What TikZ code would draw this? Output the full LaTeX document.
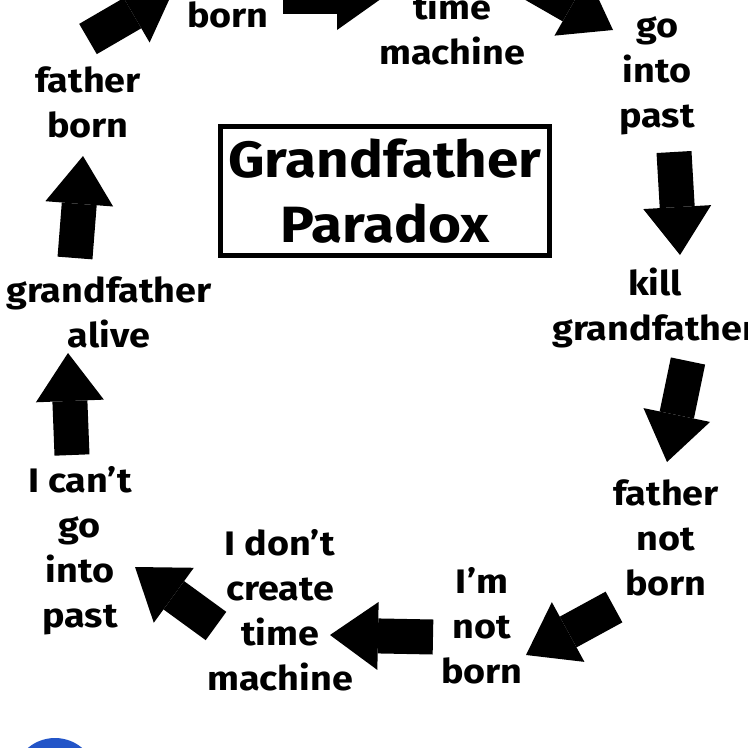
\documentclass[tikz,border=0pt]{standalone}
\usepackage{fontspec}
\setmainfont[FakeStretch=1.11]{Fira Sans}
\usetikzlibrary{arrows.meta}
\definecolor{logoblue}{RGB}{35,85,200}
\tikzset{
  lab/.style={font=\fontsize{34}{45}\selectfont\bfseries, align=center, anchor=base, inner sep=0pt},
  blockarrow/.style={line width=35pt, line cap=butt,
    -{Triangle[width=68pt,length=48pt,line width=0pt]}},
}
\begin{document}
\begin{tikzpicture}[x=1pt,y=-1pt]
\path[use as bounding box] (0,0) rectangle (748,748);
\clip (0,0) rectangle (748,748);
\fill[white] (0,0) rectangle (748,748);

% labels (anchor = baseline of the last line)
\node[lab] (born)  at (228,27)  {born};
\node[lab] (time)  at (452,64)  {time\\machine};
\node[lab] (go)    at (657,127) {go\\into\\past};
\node[lab] (kill)  at (655,340) {kill\\grandfather};
\node[lab] (fnb)   at (666,595) {father\\not\\born};
\node[lab] (inb)   at (482,683) {I’m\\not\\born};
\node[lab] (dont)  at (280,690) {I don’t\\create\\time\\machine};
\node[lab] (cant)  at (80,627)  {I can’t\\go\\into\\past};
\node[lab] (alive) at (109,347) {grandfather\\alive};
\node[lab] (fborn) at (88,137)  {father\\born};

% title
\node[draw, line width=5pt, minimum width=329pt, minimum height=129pt,
      align=center, inner sep=0pt,
      font=\fontsize{51}{65}\selectfont\bfseries] (title) at (385,191) {Grandfather\\Paradox};

% arrow end points
\coordinate (a1s) at (88,39);   \coordinate (a1e) at (174,-11);
\coordinate (a2s) at (283,-4);  \coordinate (a2e) at (385,-4);
\coordinate (a3s) at (524,-21); \coordinate (a3e) at (613,30);
\coordinate (a4s) at (674,152); \coordinate (a4e) at (680,255);
\coordinate (a5s) at (688,361); \coordinate (a5e) at (667,462);
\coordinate (a6s) at (614,607); \coordinate (a6e) at (526,655);
\coordinate (a7s) at (433,637); \coordinate (a7e) at (330,635);
\coordinate (a8s) at (216,626); \coordinate (a8e) at (135,567);
\coordinate (a9s) at (72,455);  \coordinate (a9e) at (68,353);
\coordinate (a10s) at (75,258); \coordinate (a10e) at (83,156);

\foreach \i in {1,...,10} \draw[blockarrow] (a\i s) -- (a\i e);

% logo fragment
\fill[logoblue] (55,780) circle (42);
\end{tikzpicture}
\end{document}
